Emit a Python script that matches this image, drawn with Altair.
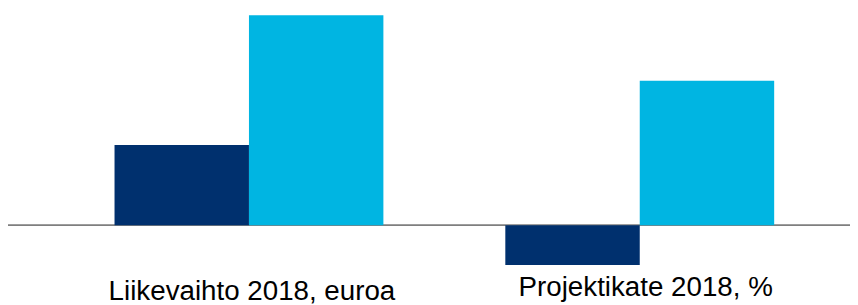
import altair as alt
import pandas as pd

groups = ["Liikevaihto 2018, euroa", "Projektikate 2018, %"]
series = ["Yritys", "Toimiala"]
values_yritys = [81, -40]
values_toimiala = [212, 146]
colors = ["#00306E", "#00B5E2"]

rows = []
for g, a, b in zip(groups, values_yritys, values_toimiala):
    rows.append({"ryhma": g, "sarja": series[0], "arvo": a})
    rows.append({"ryhma": g, "sarja": series[1], "arvo": b})
df = pd.DataFrame(rows)
labels = pd.DataFrame({"ryhma": groups})

xscale = alt.Scale(domain=groups, range=[46, 835], paddingInner=0, paddingOuter=0)
yscale = alt.Scale(domain=[-79, 218], nice=False, zero=False)

bars = alt.Chart(df).mark_bar().encode(
    x=alt.X("ryhma:N", scale=xscale, axis=None),
    xOffset=alt.XOffset("sarja:N", sort=series,
                        scale=alt.Scale(paddingInner=0, paddingOuter=0.4535)),
    y=alt.Y("arvo:Q", scale=yscale, axis=None),
    y2=alt.Y2("nolla:Q"),
    color=alt.Color("sarja:N", scale=alt.Scale(domain=series, range=colors), legend=None),
).transform_calculate(nolla="0")

rule = alt.Chart(labels).transform_calculate(nolla="0").mark_rule(
    color="#7f7f7f", strokeWidth=1.5
).encode(
    y=alt.Y("nolla:Q", scale=yscale, axis=None),
    x=alt.value(0),
    x2=alt.value(850),
)

lab1 = alt.Chart(labels).transform_filter(alt.datum.ryhma == groups[0]).mark_text(
    font="Liberation Sans", fontSize=28, baseline="alphabetic", align="center", dx=3, color="#000000"
).encode(x=alt.X("ryhma:N", scale=xscale, axis=None), y=alt.value(293), text="ryhma:N")

lab2 = alt.Chart(labels).transform_filter(alt.datum.ryhma == groups[1]).mark_text(
    font="Liberation Sans", fontSize=28, baseline="alphabetic", align="center", dx=6, color="#000000"
).encode(x=alt.X("ryhma:N", scale=xscale, axis=None), y=alt.value(289), text="ryhma:N")

chart = alt.layer(rule, bars, lab1, lab2).properties(
    width=850, height=297, padding=0, autosize=alt.AutoSizeParams(type="none")
).configure_view(stroke=None)

chart.save("out.html", embed_options={"renderer": "svg", "actions": False})
